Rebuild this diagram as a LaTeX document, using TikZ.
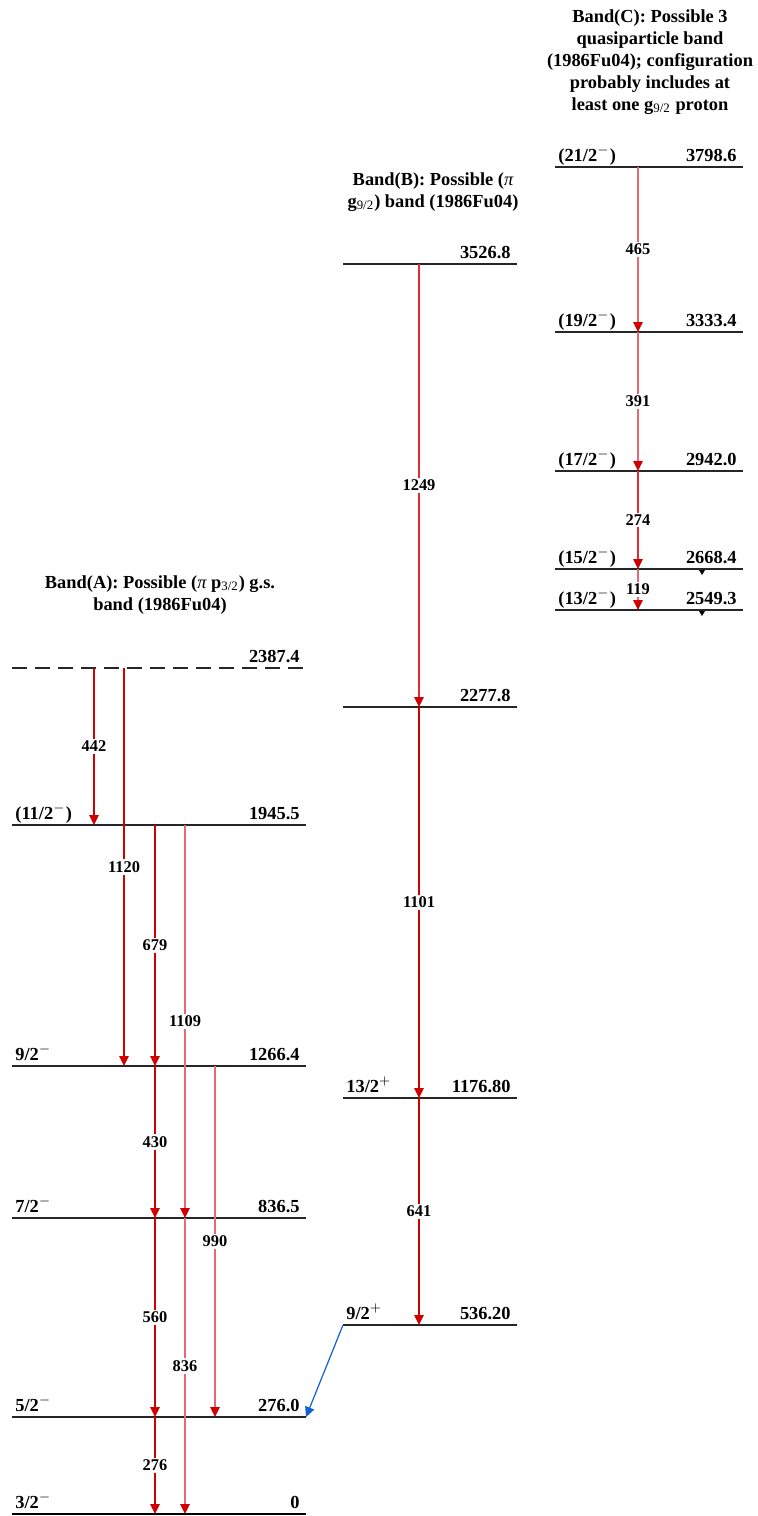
\documentclass[tikz,border=0pt]{standalone}
\usepackage{fontspec}
\setmainfont{Liberation Serif}
\usetikzlibrary{arrows.meta}

\definecolor{gred}{RGB}{208,0,0}
\definecolor{gmid}{RGB}{222,45,50}
\definecolor{gpink}{RGB}{228,105,115}
\definecolor{gblue}{RGB}{20,95,210}
\newcommand\lfont{\fontsize{9.2}{11}\selectfont\bfseries}
\newcommand\gfont{\fontsize{8.2}{9}\selectfont\bfseries}

\begin{document}
\begin{tikzpicture}[x=0.5pt, y=-0.5pt,
  lvl/.style={draw=black!85, line width=0.55pt},
  lvlgs/.style={draw=black, line width=1pt},
  lvldash/.style={lvl, dash pattern=on 7.5pt off 4pt},
  spin/.style={anchor=base west, inner sep=0pt, xshift=1.5pt, yshift=3pt, font=\lfont},
  ener/.style={anchor=base east, inner sep=0pt, xshift=-3pt, yshift=3pt, font=\lfont},
  title/.style={align=center, font=\lfont, inner sep=0pt},
  gam/.style={-{Triangle[length=5pt, width=4.8pt, color=gred]}, draw=gred, line width=0.6pt},
  gamm/.style={gam, draw=gmid},
  gamw/.style={gam, draw=gpink},
  gamb/.style={-{Triangle[length=5pt, width=4.8pt]}, draw=gblue, fill=gblue, line width=0.6pt},
  elab/.style={font=\gfont, fill=white, inner sep=1pt}]
\useasboundingbox (0,0) rectangle (758,1516);

% band titles
\node[title] (tA) at (160,595) {Band(A): Possible ({\mdseries\itshape π} p\textsubscript{\mdseries 3/2}) g.s.\\band (1986Fu04)};
\node[title] (tB) at (433,192) {Band(B): Possible ({\mdseries\itshape π}\\g\textsubscript{\mdseries 9/2}) band (1986Fu04)};
\node[title] (tC) at (650,62) {Band(C): Possible 3\\quasiparticle band\\(1986Fu04); configuration\\probably includes at\\least one g\textsubscript{\mdseries 9/2} proton};

% levels
\foreach \nm/\xl/\xr/\y/\st/\sp/\en in {
  A0/12/306/1514/lvlgs/{3/2$^-$}/0,
  A276/12/306/1417/lvl/{5/2$^-$}/276.0,
  A836/12/306/1218/lvl/{7/2$^-$}/836.5,
  A1266/12/306/1066/lvl/{9/2$^-$}/1266.4,
  A1945/12/306/825/lvl/{(11/2$^-$)}/1945.5,
  A2387/12/306/668/lvldash/{}/2387.4,
  B536/343/517/1325/lvl/{9/2$^+$}/536.20,
  B1176/343/517/1098/lvl/{13/2$^+$}/1176.80,
  B2277/343/517/707/lvl/{}/2277.8,
  B3526/343/517/264/lvl/{}/3526.8,
  C2549/555/743/610/lvl/{(13/2$^-$)}/2549.3,
  C2668/555/743/569/lvl/{(15/2$^-$)}/2668.4,
  C2942/555/743/471/lvl/{(17/2$^-$)}/2942.0,
  C3333/555/743/332/lvl/{(19/2$^-$)}/3333.4,
  C3798/555/743/167/lvl/{(21/2$^-$)}/3798.6}
{
  \coordinate (\nm L) at (\xl,\y);
  \coordinate (\nm R) at (\xr,\y);
  \draw[\st] (\nm L) -- (\nm R);
  \node[spin] (\nm s) at (\nm L) {\sp};
  \node[ener] (\nm e) at (\nm R) {\en};
}

% small markers below the band C levels
\fill (C2668R) ++(-44,1) -- ++(6,0) -- ++(-3,5) -- cycle;
\fill (C2549R) ++(-44,1) -- ++(6,0) -- ++(-3,5) -- cycle;

% gamma rays
\foreach \x/\a/\b/\e/\c in {
  94/A2387/A1945/442/gam,
  124/A2387/A1266/1120/gam,
  155/A1945/A1266/679/gam,
  185/A1945/A836/1109/gamw,
  155/A1266/A836/430/gam,
  215/A1266/A276/990/gamw,
  155/A836/A276/560/gam,
  185/A836/A0/836/gamw,
  155/A276/A0/276/gam,
  419/B3526/B2277/1249/gamm,
  419/B2277/B1176/1101/gam,
  419/B1176/B536/641/gam,
  638/C3798/C3333/465/gamw,
  638/C3333/C2942/391/gamw,
  638/C2942/C2668/274/gamm,
  638/C2668/C2549/119/gamw}
{
  \draw[\c] (\a L -| \x,0) -- node[elab] (g\e) {\e} (\b L -| \x,0);
}

% inter-band link
\draw[gamb] (B536L) -- (A276R);
\end{tikzpicture}
\end{document}
